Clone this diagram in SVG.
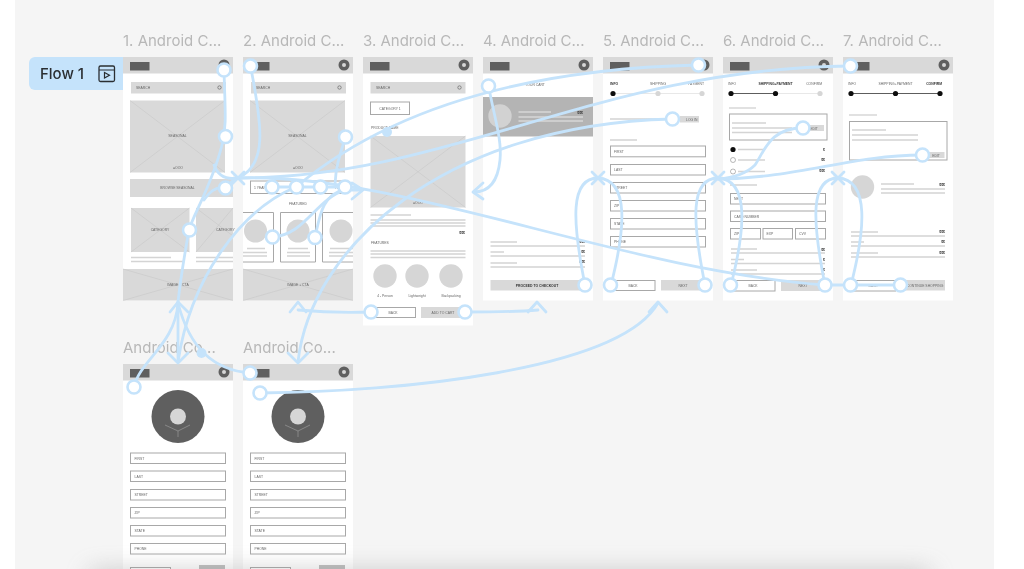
<svg xmlns="http://www.w3.org/2000/svg" width="1024" height="569" viewBox="0 0 1024 569">
<style>
.ttl{font:400 15px Inter,"Liberation Sans",sans-serif;fill:#b8b8b8}
.t{font:400 3.4px "Liberation Sans",Arial,sans-serif;fill:#666}
.m{text-anchor:middle}.e{text-anchor:end}
.b{font-weight:700;fill:#333}
.f{fill:#fff}
.g{fill:#d9d9d9}
.l{fill:#d6d6d6}
.d{fill:#5f5f5f}
.x{stroke:#c4c4c4;stroke-width:.5;fill:none}
.fld{fill:#fff;stroke:#a8a8a8;stroke-width:1}
.rule{stroke:#d4d4d4;stroke-width:1.4;fill:none}
.c{fill:none;stroke:#c5e3fb;stroke-width:2.8;stroke-linecap:round;stroke-linejoin:round}
.h{fill:#fff;stroke:#c5e3fb;stroke-width:2.6}
.fd{fill:#c5e3fb}
</style>
<defs>
<filter id="soft" x="0" y="0" width="100%" height="100%"><feGaussianBlur stdDeviation="0.3"/></filter>
<filter id="shb" x="-10%" y="-300%" width="120%" height="700%"><feGaussianBlur stdDeviation="12"/></filter>
<g id="hdr"><rect width="110" height="16.500" class="g"/><rect x="7" y="5" width="19.500" height="8.500" class="d"/><circle cx="101" cy="8" r="5.500" class="d"/><circle cx="101" cy="8" r="2" class="l"/></g>
</defs>
<rect width="1024" height="569" fill="#fff"/>
<rect x="15" y="0" width="979" height="569" fill="#f5f5f5"/>
<g filter="url(#soft)">
<g id="flow-tag"><path d="M123,57H35a6,6 0 0 0-6,6V84a6,6 0 0 0 6,6H123Z" fill="#c5e3fb"/><text x="40" y="79" font-family="Inter,'Liberation Sans',sans-serif" font-size="15" font-weight="500" fill="#2b2f33">Flow 1</text><rect x="99" y="66" width="15.500" height="15.500" rx="1.500" fill="none" stroke="#2b2f33" stroke-width="1.300"/><path d="M99,70H114.500M104.500,72.500V78L109.500,75.200Z" fill="none" stroke="#2b2f33" stroke-width="1.200"/></g>

<g id="frame-1">
<text x="123" y="46" class="ttl">1. Android C...</text>
<rect x="123" y="57" width="110" height="243.500" class="f"/><use href="#hdr" x="123" y="57"/>
<rect x="131" y="82" width="95" height="11.500" class="g"/><text x="136" y="88.800" class="t">SEARCH</text><circle cx="219.500" cy="87.500" r="1.700" fill="none" stroke="#555" stroke-width=".6"/>
<rect x="130" y="100.500" width="95" height="72" class="g"/><path d="M130,100.500L225,172.500M225,100.500L130,172.500" class="x"/><text x="177.500" y="137" class="t m">SEASONAL</text><text x="178" y="169" class="t m">●OOO</text>
<rect x="130" y="179" width="103" height="18" class="g"/><text x="177.500" y="189" class="t m">BROWSE SEASONAL</text>
<rect x="131" y="208" width="58.500" height="44" class="g"/><path d="M131,208L189.500,252M189.500,208L131,252" class="x"/><text x="160" y="231" class="t m">CATEGORY</text>
<rect x="196" y="208" width="37" height="44" class="g"/><path d="M196,208L233,236M233,208L196,252" class="x"/><text x="216" y="231" class="t">CATEGORY</text>
<path d="M131,257.500H171M131,261.500H183M196,257.500H233M196,261.500H233" class="rule"/>
<rect x="123" y="269" width="110" height="31.500" class="g"/><path d="M123,269L233,300.500M233,269L123,300.500" class="x"/><text x="178" y="286" class="t m">IMAGE + CTA</text>
</g>

<g id="frame-2">
<text x="243" y="46" class="ttl">2. Android C...</text>
<rect x="243" y="57" width="110" height="243.500" class="f"/><use href="#hdr" x="243" y="57"/>
<rect x="251" y="82" width="95" height="11.500" class="g"/><text x="256" y="88.800" class="t">SEARCH</text><circle cx="339.500" cy="87.500" r="1.700" fill="none" stroke="#555" stroke-width=".6"/>
<rect x="250" y="100.500" width="95" height="72" class="g"/><path d="M250,100.500L345,172.500M345,100.500L250,172.500" class="x"/><text x="297.500" y="137" class="t m">SEASONAL</text><text x="298" y="169" class="t m">●OOO</text>
<rect x="250.500" y="181" width="95" height="12.500" class="fld"/><text x="254" y="188.500" class="t">1 YEAR</text><text x="335" y="188.500" class="t">FEAT</text>
<text x="298" y="205" class="t m">FEATURED</text>
<path d="M243,212.500H273.500V262H243M280.500,212.500H315.500V262H280.500ZM353,212.500H322.500V262H353" fill="#fff" stroke="#a8a8a8" stroke-width="1"/>
<circle cx="255.500" cy="231" r="11.500" class="l"/><circle cx="298" cy="231" r="11.500" class="l"/><circle cx="341" cy="231" r="11.500" class="l"/>
<path d="M247,248.500H265M243,252.500H267M243,256H267M288,248.500H308M287,252.500H310M287,256H310M330,248.500H353M329,252.500H353M329,256H353" class="rule"/>
<rect x="243" y="269" width="110" height="31.500" class="g"/><path d="M243,269L353,300.500M353,269L243,300.500" class="x"/><text x="298" y="286" class="t m">IMAGE + CTA</text>
</g>

<g id="frame-3">
<text x="363" y="46" class="ttl">3. Android C...</text>
<rect x="363" y="57" width="110" height="268.500" class="f"/><use href="#hdr" x="363" y="57"/>
<rect x="370.500" y="82" width="95" height="11.500" class="g"/><text x="376" y="88.800" class="t">SEARCH</text><circle cx="459.500" cy="87.500" r="1.700" fill="none" stroke="#555" stroke-width=".6"/>
<rect x="370.500" y="102" width="39" height="12.500" class="fld"/><text x="390" y="109.500" class="t m">CATEGORY 1</text>
<text x="371" y="128.500" class="t">PRODUCT NAME</text>
<rect x="370.500" y="136" width="95" height="71.500" class="g"/><path d="M370.500,136L465.500,207.500M465.500,136L370.500,207.500" class="x"/><text x="418" y="204" class="t m">●OOO</text>
<path d="M370.500,215H411M370.500,220H465.500M370.500,223H465.500M370.500,226H465.500M370.500,251H465.500M370.500,254H465.500M370.500,257.500H465.500" class="rule"/>
<text x="465" y="234" class="t e b">$$$</text><text x="371" y="244" class="t">FEATURES</text>
<circle cx="385" cy="276" r="11.700" class="l"/><circle cx="417" cy="276" r="11.700" class="l"/><circle cx="451" cy="276" r="11.700" class="l"/>
<text x="385" y="296.500" class="t m">4 - Person</text><text x="417" y="296.500" class="t m">Lightweight</text><text x="451" y="296.500" class="t m">Backpacking</text>
<rect x="370.500" y="307.500" width="45" height="10" class="fld"/><text x="393" y="313.800" class="t m">BACK</text>
<rect x="421" y="307" width="44.500" height="11" class="g"/><text x="443" y="313.800" class="t m">ADD TO CART</text>
</g>

<g id="frame-4">
<text x="483" y="46" class="ttl">4. Android C...</text>
<rect x="483" y="57" width="110" height="243.500" class="f"/><use href="#hdr" x="483" y="57"/>
<text x="535" y="85.500" class="t m">YOUR CART</text>
<rect x="483" y="97" width="110" height="39.500" fill="#b4b4b4"/><circle cx="500" cy="116" r="11.700" fill="#d2d2d2"/>
<path d="M518.500,112H551M518.500,117H583M518.500,121H583" stroke="#d6d6d6" stroke-width="1.500" fill="none"/><text x="583" y="114" class="t e b">$$$</text>
<path d="M490.500,242H517M490.500,246H585M490.500,252H504M490.500,256H585M490.500,263H517M490.500,267H585" class="rule"/>
<text x="585" y="243" class="t e b">$$$</text><text x="585" y="253" class="t e b">$$</text><text x="585" y="263" class="t e b">$$$</text>
<rect x="490.500" y="280" width="94.500" height="10.500" class="g"/><text x="537" y="286.500" class="t m b">PROCEED TO CHECKOUT</text>
</g>

<g id="frame-5">
<text x="603" y="46" class="ttl">5. Android C...</text>
<rect x="603" y="57" width="110" height="243.500" class="f"/><use href="#hdr" x="603" y="57"/>
<text x="610" y="85" class="t b">INFO</text><text x="658" y="85" class="t m">SHIPPING</text><text x="704" y="85" class="t e">PAYMENT</text>
<path d="M613,93.500H702" stroke="#e2e2e2" stroke-width=".8"/><circle cx="613" cy="93.500" r="2.600" fill="#111"/><circle cx="658" cy="93.500" r="2.600" class="l"/><circle cx="702" cy="93.500" r="2.600" class="l"/>
<path d="M610,119H670M610,140H637" class="rule"/><rect x="680" y="116" width="19" height="6.500" class="g"/><text x="686" y="120.500" class="t">LOG IN</text>
<rect x="610.500" y="146" width="95" height="10.800" class="fld"/><text x="614" y="153" class="t">FIRST</text>
<rect x="610.500" y="164.500" width="95" height="10.500" class="fld"/><text x="614" y="171" class="t">LAST</text>
<rect x="610.500" y="182.500" width="95" height="10.500" class="fld"/><text x="614" y="189" class="t">STREET</text>
<rect x="610.500" y="200.500" width="95" height="10.500" class="fld"/><text x="614" y="207" class="t">ZIP</text>
<rect x="610.500" y="218.500" width="95" height="10.500" class="fld"/><text x="614" y="225" class="t">STATE</text>
<rect x="610.500" y="236.500" width="95" height="10.500" class="fld"/><text x="614" y="243" class="t">PHONE</text>
<rect x="610.500" y="280.500" width="44.500" height="10" class="fld"/><text x="633" y="286.500" class="t m">BACK</text>
<rect x="661" y="280" width="44.500" height="10.500" class="g"/><text x="683" y="286.500" class="t m">NEXT</text>
</g>

<g id="frame-6">
<text x="723" y="46" class="ttl">6. Android C...</text>
<rect x="723" y="57" width="110" height="243.500" class="f"/><use href="#hdr" x="723" y="57"/>
<text x="728" y="85" class="t">INFO</text><text x="775.500" y="85" class="t m b">SHIPPING+PAYMENT</text><text x="822" y="85" class="t e">CONFIRM</text>
<path d="M731,93.500H775.500" stroke="#333" stroke-width=".8"/><path d="M775.500,93.500H820" stroke="#e2e2e2" stroke-width=".8"/><circle cx="731" cy="93.500" r="2.600" fill="#111"/><circle cx="775.500" cy="93.500" r="2.600" fill="#111"/><circle cx="820" cy="93.500" r="2.600" class="l"/>
<path d="M729,108H756" class="rule"/>
<rect x="729.500" y="114" width="97.500" height="26" class="fld"/>
<path d="M732,123H766M732,128H792M732,132.500H792" class="rule"/><rect x="802" y="125" width="22" height="6" class="g"/><text x="814" y="129.500" class="t m">EDIT</text>
<circle cx="733" cy="149.500" r="2.600" fill="#111"/><circle cx="733" cy="160" r="2.500" fill="#fff" stroke="#888" stroke-width=".6"/><circle cx="733" cy="171.500" r="2.500" fill="#fff" stroke="#888" stroke-width=".6"/>
<path d="M738,149.500H765M738,160H765M738,171.500H765M730,185H757" class="rule"/>
<text x="825" y="151" class="t e b">$</text><text x="825" y="161" class="t e b">$$</text><text x="825" y="171.500" class="t e b">$$$</text>
<rect x="730.500" y="193.500" width="95" height="10.500" class="fld"/><text x="734" y="200" class="t">NEXT</text>
<rect x="730.500" y="211" width="95" height="10.500" class="fld"/><text x="734" y="217.500" class="t">CARD NUMBER</text>
<rect x="730.500" y="228.500" width="30" height="10.500" class="fld"/><text x="734" y="235" class="t">ZIP</text>
<rect x="763" y="228.500" width="29.500" height="10.500" class="fld"/><text x="766.500" y="235" class="t">EXP</text>
<rect x="795.500" y="228.500" width="30" height="10.500" class="fld"/><text x="799" y="235" class="t">CVV</text>
<path d="M731,249H757M731,253H825M731,259.500H744M731,263.500H825M731,270H757M731,274H825" class="rule"/>
<text x="825" y="251" class="t e b">$$</text><text x="825" y="261" class="t e b">$</text><text x="825" y="271" class="t e b">$$</text>
<rect x="730.500" y="280.500" width="44.500" height="10.500" class="fld"/><text x="753" y="287" class="t m">BACK</text>
<rect x="781" y="280" width="44.500" height="11" class="g"/><text x="803" y="287" class="t m">NEXT</text>
</g>

<g id="frame-7">
<text x="843" y="46" class="ttl">7. Android C...</text>
<rect x="843" y="57" width="110" height="243.500" class="f"/><use href="#hdr" x="843" y="57"/>
<text x="848" y="85" class="t">INFO</text><text x="895.500" y="85" class="t m">SHIPPING+PAYMENT</text><text x="942" y="85" class="t e b">CONFIRM</text>
<path d="M851,93.500H940" stroke="#333" stroke-width=".8"/><circle cx="851" cy="93.500" r="2.600" fill="#111"/><circle cx="895.500" cy="93.500" r="2.600" fill="#111"/><circle cx="940" cy="93.500" r="2.600" fill="#111"/>
<path d="M849,115H877" class="rule"/>
<rect x="849.500" y="121.500" width="97.500" height="38.500" class="fld"/>
<path d="M852,130H886M852,135H918M852,140H918" class="rule"/><rect x="927" y="152" width="17.500" height="6" class="g"/><text x="936" y="156.500" class="t m">EDIT</text>
<circle cx="862.500" cy="187" r="11.700" class="l"/>
<path d="M881,184H914M881,189H945M881,193H945" class="rule"/><text x="945" y="186" class="t e b">$$$</text>
<path d="M851,232H878M851,236H945M851,242H864M851,246H945M851,253H878M851,257H945" class="rule"/>
<text x="945" y="233" class="t e b">$$$</text><text x="945" y="243" class="t e b">$$</text><text x="945" y="254" class="t e b">$$$</text>
<rect x="850.500" y="280.500" width="45" height="10.500" class="fld"/><text x="873" y="287" class="t m">BACK</text>
<rect x="905" y="280" width="40" height="10.500" class="g"/><text x="925" y="286.500" class="t m">CONTINUE SHOPPING</text>
</g>

<g id="frame-8">
<text x="123" y="353" class="ttl">Android Co...</text>
<rect x="123" y="364" width="110" height="205" fill="#fff"/><use href="#hdr" x="123" y="364"/>
<circle cx="178" cy="416.500" r="26.500" class="d"/><circle cx="178" cy="416.500" r="8" class="l"/><path d="M165,425L178,431L190,425M178,431V437" stroke="#999" stroke-width=".7" fill="none"/>
<rect x="130.500" y="453" width="95" height="10.500" class="fld"/><text x="134.500" y="459.500" class="t">FIRST</text>
<rect x="130.500" y="471" width="95" height="10.500" class="fld"/><text x="134.500" y="477.500" class="t">LAST</text>
<rect x="130.500" y="489.500" width="95" height="10.500" class="fld"/><text x="134.500" y="496" class="t">STREET</text>
<rect x="130.500" y="507.500" width="95" height="10.500" class="fld"/><text x="134.500" y="514" class="t">ZIP</text>
<rect x="130.500" y="525.500" width="95" height="10.500" class="fld"/><text x="134.500" y="532" class="t">STATE</text>
<rect x="130.500" y="543.500" width="95" height="10.500" class="fld"/><text x="134.500" y="550" class="t">PHONE</text>
<rect x="130.500" y="567.500" width="40" height="3" class="fld"/><rect x="199" y="565" width="26" height="5" fill="#bdbdbd"/>
</g>

<g id="frame-9">
<text x="243" y="353" class="ttl">Android Co...</text>
<rect x="243" y="364" width="110" height="205" fill="#fff"/><use href="#hdr" x="243" y="364"/>
<circle cx="298" cy="416.500" r="26.500" class="d"/><circle cx="298" cy="416.500" r="8" class="l"/><path d="M285,425L298,431L310,425M298,431V437" stroke="#999" stroke-width=".7" fill="none"/>
<rect x="250.500" y="453" width="95" height="10.500" class="fld"/><text x="254.500" y="459.500" class="t">FIRST</text>
<rect x="250.500" y="471" width="95" height="10.500" class="fld"/><text x="254.500" y="477.500" class="t">LAST</text>
<rect x="250.500" y="489.500" width="95" height="10.500" class="fld"/><text x="254.500" y="496" class="t">STREET</text>
<rect x="250.500" y="507.500" width="95" height="10.500" class="fld"/><text x="254.500" y="514" class="t">ZIP</text>
<rect x="250.500" y="525.500" width="95" height="10.500" class="fld"/><text x="254.500" y="532" class="t">STATE</text>
<rect x="250.500" y="543.500" width="95" height="10.500" class="fld"/><text x="254.500" y="550" class="t">PHONE</text>
<rect x="250.500" y="567.500" width="40" height="3" class="fld"/><rect x="319" y="565" width="26" height="5" fill="#bdbdbd"/>
</g>

<g id="connectors">
<g class="c">
<path d="M224,70C225,110 227,125 222,145C212,185 193,215 189,230C185,252 181,275 178,302"/>
<path d="M225,188C215,186 209,193 204,200"/>
<path d="M178,302V362"/>
<path d="M250.500,66C262,125 268,165 238,178"/>
<path d="M238,178C226,180 218,176 214,165"/>
<path d="M225,188C230,182 234,180 238,178"/>
<path d="M296,187C370,125 490,70 698,65"/>
<path d="M238,178C450,178 600,68 850,66"/>
<path d="M298,362C310,250 440,125 672,119"/>
<path d="M238,178C400,172 620,270 825,285"/>
<path d="M272,187H345"/>
<path d="M272.500,237C305,235 315,200 345,190L362,190"/>
<path d="M315,237.500C320,215 322,195 345,189"/>
<path d="M345.500,137C340,155 336,165 335,184"/>
<path d="M296,187C240,210 190,280 178,362"/>
<path d="M134,387C140,360 175,345 178,303"/>
<path d="M250,373C215,370 190,350 178,303"/>
<path d="M371,312C340,313 320,312 298,310"/>
<path d="M465,312C490,312 515,312 538,310"/>
<path d="M260,393C400,392 620,370 658,303"/>
<path d="M488.500,86C495,120 502,140 500,160C498,180 490,192 474,192"/>
<path d="M585,285C572,220 570,178 598,178C630,180 625,230 611,285"/>
<path d="M705,285C692,220 690,178 718,178C750,180 745,230 731,285"/>
<path d="M825,285C812,220 810,178 838,178C870,180 865,230 851,285"/>
<path d="M803,128C770,128 765,150 755,165C745,175 730,178 718,179"/>
<path d="M922.500,155C850,155 800,178 718,179"/>
<path d="M825,285H900"/>
<path d="M170,312L178,302L188,312"/>
<path d="M168,353L178,363L188,353"/>
<path d="M290,312L298,302L306,312"/>
<path d="M288,353L298,363L308,353"/>
<path d="M352,183L363,190L352,199"/>
<path d="M483,183L473,192L483,199"/>
<path d="M528,312L537,302L546,312"/>
<path d="M649,312L658,302L667,312"/>
<path d="M232,172L244,184M244,172L232,184"/>
<path d="M592,172L604,184M604,172L592,184"/>
<path d="M712,172L724,184M724,172L712,184"/>
<path d="M832,172L844,184M844,172L832,184"/>
</g>
<circle class="fd" cx="387" cy="132" r="5"/><circle class="fd" cx="201.500" cy="353" r="5"/>
<g class="h">
<circle cx="224" cy="70" r="6.500"/><circle cx="225.500" cy="136.500" r="6.500"/><circle cx="225.500" cy="188" r="6.500"/><circle cx="189.500" cy="230" r="6.500"/>
<circle cx="250.500" cy="66" r="6.500"/><circle cx="345.500" cy="137" r="6.500"/><circle cx="272" cy="187" r="6.500"/><circle cx="296.500" cy="187" r="6.500"/><circle cx="320.500" cy="187" r="6.500"/><circle cx="345" cy="187" r="6.500"/><circle cx="272.500" cy="237" r="6.500"/><circle cx="315" cy="237.500" r="6.500"/>
<circle cx="371" cy="312" r="6.500"/><circle cx="465" cy="312" r="6.500"/><circle cx="488.500" cy="86" r="6.500"/><circle cx="585" cy="285" r="6.500"/><circle cx="610.500" cy="285" r="6.500"/><circle cx="705" cy="285" r="6.500"/><circle cx="730.500" cy="285" r="6.500"/><circle cx="825" cy="285" r="6.500"/><circle cx="850.500" cy="285" r="6.500"/><circle cx="900.500" cy="285" r="6.500"/>
<circle cx="698.500" cy="65" r="6.500"/><circle cx="850.500" cy="66" r="6.500"/><circle cx="672.500" cy="119" r="6.500"/><circle cx="803" cy="128" r="6.500"/><circle cx="922.500" cy="155" r="6.500"/>
<circle cx="134" cy="387" r="6.500"/><circle cx="250" cy="373" r="6.500"/><circle cx="260" cy="393" r="6.500"/>
</g>
</g>
</g>
<rect x="90" y="572" width="840" height="14" fill="#8a8a8a" opacity=".55" filter="url(#shb)"/>
</svg>
